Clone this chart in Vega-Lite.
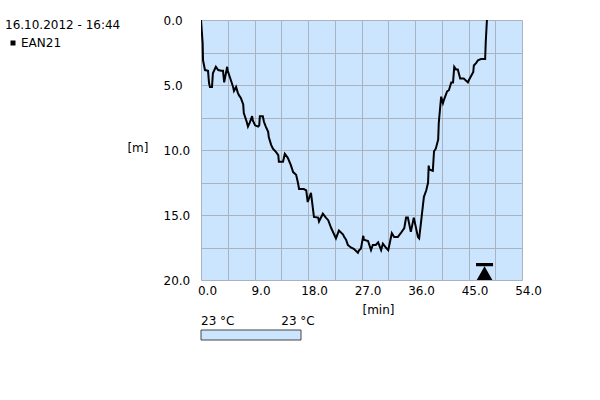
{
  "$schema": "https://vega.github.io/schema/vega-lite/v6.json",
  "padding": {"left": 5, "top": 14, "right": 5, "bottom": 5},
  "background": "white",
  "config": {
    "font": "DejaVu Sans",
    "view": {"stroke": null},
    "axis": {"labelColor": "black", "titleColor": "black", "labelFontSize": 12, "titleFontSize": 12, "titleFontWeight": "normal"}
  },
  "datasets": {
    "depth": [
      {"series": "EAN21", "time": 0, "depth": 0},
      {"series": "EAN21", "time": 0.28, "depth": 1.8},
      {"series": "EAN21", "time": 0.34, "depth": 3.1},
      {"series": "EAN21", "time": 0.67, "depth": 3.85},
      {"series": "EAN21", "time": 1.18, "depth": 3.9},
      {"series": "EAN21", "time": 1.35, "depth": 4.85},
      {"series": "EAN21", "time": 1.5, "depth": 5.15},
      {"series": "EAN21", "time": 1.85, "depth": 5.15},
      {"series": "EAN21", "time": 2.0, "depth": 4.1},
      {"series": "EAN21", "time": 2.5, "depth": 3.6},
      {"series": "EAN21", "time": 2.9, "depth": 3.85},
      {"series": "EAN21", "time": 3.4, "depth": 3.9},
      {"series": "EAN21", "time": 3.7, "depth": 3.9},
      {"series": "EAN21", "time": 3.9, "depth": 4.8},
      {"series": "EAN21", "time": 4.4, "depth": 3.6},
      {"series": "EAN21", "time": 4.5, "depth": 3.9},
      {"series": "EAN21", "time": 5.0, "depth": 4.6},
      {"series": "EAN21", "time": 5.4, "depth": 5.15},
      {"series": "EAN21", "time": 5.55, "depth": 5.45},
      {"series": "EAN21", "time": 5.9, "depth": 5.15},
      {"series": "EAN21", "time": 6.2, "depth": 5.6},
      {"series": "EAN21", "time": 6.4, "depth": 5.8},
      {"series": "EAN21", "time": 6.7, "depth": 6.0},
      {"series": "EAN21", "time": 7.1, "depth": 6.5},
      {"series": "EAN21", "time": 7.2, "depth": 7.15},
      {"series": "EAN21", "time": 7.7, "depth": 7.85},
      {"series": "EAN21", "time": 7.9, "depth": 8.2},
      {"series": "EAN21", "time": 8.2, "depth": 7.9},
      {"series": "EAN21", "time": 8.6, "depth": 7.4},
      {"series": "EAN21", "time": 8.7, "depth": 7.7},
      {"series": "EAN21", "time": 9.1, "depth": 8.1},
      {"series": "EAN21", "time": 9.6, "depth": 8.2},
      {"series": "EAN21", "time": 9.8, "depth": 8.1},
      {"series": "EAN21", "time": 9.9, "depth": 7.4},
      {"series": "EAN21", "time": 10.4, "depth": 7.4},
      {"series": "EAN21", "time": 10.6, "depth": 7.85},
      {"series": "EAN21", "time": 10.9, "depth": 8.2},
      {"series": "EAN21", "time": 11.3, "depth": 8.6},
      {"series": "EAN21", "time": 11.4, "depth": 9.0},
      {"series": "EAN21", "time": 11.8, "depth": 9.6},
      {"series": "EAN21", "time": 12.1, "depth": 9.9},
      {"series": "EAN21", "time": 12.6, "depth": 10.15},
      {"series": "EAN21", "time": 13.0, "depth": 10.4},
      {"series": "EAN21", "time": 13.1, "depth": 10.9},
      {"series": "EAN21", "time": 13.8, "depth": 10.9},
      {"series": "EAN21", "time": 14.1, "depth": 10.3},
      {"series": "EAN21", "time": 14.6, "depth": 10.6},
      {"series": "EAN21", "time": 15.1, "depth": 11.15},
      {"series": "EAN21", "time": 15.5, "depth": 11.7},
      {"series": "EAN21", "time": 16.0, "depth": 11.9},
      {"series": "EAN21", "time": 16.3, "depth": 12.5},
      {"series": "EAN21", "time": 16.5, "depth": 13.0},
      {"series": "EAN21", "time": 17.3, "depth": 13.0},
      {"series": "EAN21", "time": 17.7, "depth": 13.1},
      {"series": "EAN21", "time": 17.95, "depth": 14.0},
      {"series": "EAN21", "time": 18.5, "depth": 13.3},
      {"series": "EAN21", "time": 19.0, "depth": 15.15},
      {"series": "EAN21", "time": 19.7, "depth": 15.2},
      {"series": "EAN21", "time": 19.85, "depth": 15.5},
      {"series": "EAN21", "time": 20.5, "depth": 14.9},
      {"series": "EAN21", "time": 21.0, "depth": 15.2},
      {"series": "EAN21", "time": 21.4, "depth": 15.4},
      {"series": "EAN21", "time": 21.9, "depth": 16.0},
      {"series": "EAN21", "time": 22.4, "depth": 16.5},
      {"series": "EAN21", "time": 22.7, "depth": 16.8},
      {"series": "EAN21", "time": 23.2, "depth": 16.2},
      {"series": "EAN21", "time": 23.9, "depth": 16.5},
      {"series": "EAN21", "time": 24.1, "depth": 16.7},
      {"series": "EAN21", "time": 24.4, "depth": 16.9},
      {"series": "EAN21", "time": 24.7, "depth": 17.3},
      {"series": "EAN21", "time": 25.2, "depth": 17.5},
      {"series": "EAN21", "time": 25.7, "depth": 17.6},
      {"series": "EAN21", "time": 26.4, "depth": 17.9},
      {"series": "EAN21", "time": 26.6, "depth": 17.7},
      {"series": "EAN21", "time": 26.9, "depth": 17.6},
      {"series": "EAN21", "time": 27.3, "depth": 16.6},
      {"series": "EAN21", "time": 27.4, "depth": 16.9},
      {"series": "EAN21", "time": 28.1, "depth": 17.0},
      {"series": "EAN21", "time": 28.6, "depth": 17.7},
      {"series": "EAN21", "time": 28.9, "depth": 17.3},
      {"series": "EAN21", "time": 29.4, "depth": 17.3},
      {"series": "EAN21", "time": 29.8, "depth": 17.1},
      {"series": "EAN21", "time": 30.3, "depth": 17.7},
      {"series": "EAN21", "time": 30.6, "depth": 17.2},
      {"series": "EAN21", "time": 31.1, "depth": 17.5},
      {"series": "EAN21", "time": 31.5, "depth": 17.7},
      {"series": "EAN21", "time": 32.1, "depth": 16.4},
      {"series": "EAN21", "time": 32.5, "depth": 16.7},
      {"series": "EAN21", "time": 33.1, "depth": 16.7},
      {"series": "EAN21", "time": 33.6, "depth": 16.4},
      {"series": "EAN21", "time": 34.2, "depth": 16.0},
      {"series": "EAN21", "time": 34.5, "depth": 15.2},
      {"series": "EAN21", "time": 34.8, "depth": 15.2},
      {"series": "EAN21", "time": 35.3, "depth": 16.3},
      {"series": "EAN21", "time": 35.8, "depth": 15.2},
      {"series": "EAN21", "time": 36.5, "depth": 16.7},
      {"series": "EAN21", "time": 36.7, "depth": 16.8},
      {"series": "EAN21", "time": 37.0, "depth": 15.6},
      {"series": "EAN21", "time": 37.3, "depth": 14.4},
      {"series": "EAN21", "time": 37.5, "depth": 13.6},
      {"series": "EAN21", "time": 37.9, "depth": 13.1},
      {"series": "EAN21", "time": 38.2, "depth": 12.5},
      {"series": "EAN21", "time": 38.3, "depth": 11.2},
      {"series": "EAN21", "time": 38.4, "depth": 11.5},
      {"series": "EAN21", "time": 39.0, "depth": 11.6},
      {"series": "EAN21", "time": 39.2, "depth": 10.1},
      {"series": "EAN21", "time": 39.5, "depth": 9.9},
      {"series": "EAN21", "time": 39.9, "depth": 9.2},
      {"series": "EAN21", "time": 40.0, "depth": 7.9},
      {"series": "EAN21", "time": 40.4, "depth": 5.9},
      {"series": "EAN21", "time": 40.7, "depth": 6.4},
      {"series": "EAN21", "time": 40.9, "depth": 6.1},
      {"series": "EAN21", "time": 41.4, "depth": 5.5},
      {"series": "EAN21", "time": 41.7, "depth": 5.4},
      {"series": "EAN21", "time": 42.1, "depth": 4.8},
      {"series": "EAN21", "time": 42.4, "depth": 4.8},
      {"series": "EAN21", "time": 42.6, "depth": 3.6},
      {"series": "EAN21", "time": 42.9, "depth": 3.8},
      {"series": "EAN21", "time": 43.2, "depth": 3.8},
      {"series": "EAN21", "time": 43.6, "depth": 4.5},
      {"series": "EAN21", "time": 44.2, "depth": 4.5},
      {"series": "EAN21", "time": 44.9, "depth": 4.8},
      {"series": "EAN21", "time": 45.1, "depth": 4.6},
      {"series": "EAN21", "time": 45.8, "depth": 4.0},
      {"series": "EAN21", "time": 45.9, "depth": 3.5},
      {"series": "EAN21", "time": 46.3, "depth": 3.3},
      {"series": "EAN21", "time": 46.6, "depth": 3.1},
      {"series": "EAN21", "time": 47.1, "depth": 3.0},
      {"series": "EAN21", "time": 47.8, "depth": 3.0},
      {"series": "EAN21", "time": 47.9, "depth": 1.7},
      {"series": "EAN21", "time": 48.1, "depth": 0.0}
    ],
    "marker": [{"time": 47.7, "depth": 19.35}],
    "temperature": [
      {"pos": 0, "temp": 23, "label": "23 °C"},
      {"pos": 1, "temp": 23, "label": "23 °C"}
    ]
  },
  "spacing": 0,
  "resolve": {"scale": {"color": "independent"}, "legend": {"color": "independent"}},
  "vconcat": [
    {
      "width": 321,
      "height": 260,
      "view": {"fill": "#cce5ff", "stroke": null},
      "layer": [
        {
          "data": {"name": "depth"},
          "mark": {"type": "line", "strokeWidth": 2, "clip": true},
          "encoding": {
            "x": {
              "field": "time", "type": "quantitative",
              "scale": {"domain": [0, 54], "nice": false, "zero": false},
              "axis": {
                "values": [0, 4.5, 9, 13.5, 18, 22.5, 27, 31.5, 36, 40.5, 45, 49.5, 54],
                "tickCount": 100,
                "labelExpr": "datum.value % 9 === 0 ? format(datum.value, '.1f') : ''",
                "grid": true, "gridColor": "#a9b3bf", "gridOpacity": 1, "gridWidth": 1,
                "ticks": false, "tickSize": 0, "domain": false,
                "labelFlush": false, "labelOverlap": false,
                "labelAlign": "center", "labelBaseline": "top", "labelPadding": 5, "labelOffset": 6,
                "title": "[min]", "titleX": 177, "titlePadding": 8
              }
            },
            "y": {
              "field": "depth", "type": "quantitative",
              "scale": {"domain": [0, 20], "reverse": true, "nice": false, "zero": false},
              "axis": {
                "values": [0, 2.5, 5, 7.5, 10, 12.5, 15, 17.5, 20],
                "tickCount": 100,
                "labelExpr": "datum.value % 5 === 0 ? format(datum.value, '.1f') : ''",
                "grid": true, "gridColor": "#a9b3bf", "gridOpacity": 1, "gridWidth": 1,
                "ticks": false, "tickSize": 0, "domain": false,
                "labelFlush": false, "labelOverlap": false,
                "labelAlign": "left", "labelBaseline": "middle", "labelPadding": 38,
                "title": "[m]", "titleAngle": 0, "titleAlign": "right", "titleBaseline": "middle",
                "titlePadding": 15, "titleY": 127
              }
            },
            "color": {
              "field": "series", "type": "nominal",
              "scale": {"range": ["black"]},
              "legend": {
                "orient": "left", "offset": 5, "padding": 0,
                "title": "16.10.2012 - 16:44", "titleFontSize": 12, "titleFontWeight": "normal", "titleColor": "black",
                "titlePadding": 5,
                "labelFontSize": 12, "labelColor": "black", "labelOffset": 2,
                "symbolType": "square", "symbolSize": 25, "symbolFillColor": "black", "symbolStrokeColor": "black",
                "symbolStrokeWidth": 0, "symbolOffset": 2
              }
            }
          }
        },
        {
          "data": {"name": "marker"},
          "mark": {
            "type": "point",
            "shape": "M-1,-1L1,-1L1,-0.62L-1,-0.62Z M0,-0.62L0.92,1L-0.92,1Z",
            "size": 289, "filled": true, "opacity": 1, "color": "black", "strokeWidth": 0
          },
          "encoding": {
            "x": {"field": "time", "type": "quantitative"},
            "y": {"field": "depth", "type": "quantitative"}
          }
        }
      ]
    },
    {
      "width": 100,
      "height": 10,
      "view": {"stroke": null},
      "data": {"name": "temperature"},
      "layer": [
        {
          "transform": [{"aggregate": [{"op": "min", "field": "pos", "as": "lo"}, {"op": "max", "field": "pos", "as": "hi"}]}],
          "mark": {"type": "rect", "fill": "#cce5ff", "stroke": "#444444", "strokeWidth": 1},
          "encoding": {
            "x": {"field": "lo", "type": "quantitative", "scale": {"domain": [0, 1], "nice": false}, "axis": null},
            "x2": {"field": "hi"}
          }
        },
        {
          "transform": [{"filter": "datum.pos === 0"}],
          "mark": {"type": "text", "align": "left", "baseline": "middle", "dy": -14, "fontSize": 12, "color": "black"},
          "encoding": {
            "x": {"field": "pos", "type": "quantitative", "axis": null},
            "text": {"field": "label"}
          }
        },
        {
          "transform": [{"filter": "datum.pos === 1"}],
          "mark": {"type": "text", "align": "center", "baseline": "middle", "dy": -14, "dx": -3, "fontSize": 12, "color": "black"},
          "encoding": {
            "x": {"field": "pos", "type": "quantitative", "axis": null},
            "text": {"field": "label"}
          }
        }
      ]
    }
  ]
}
